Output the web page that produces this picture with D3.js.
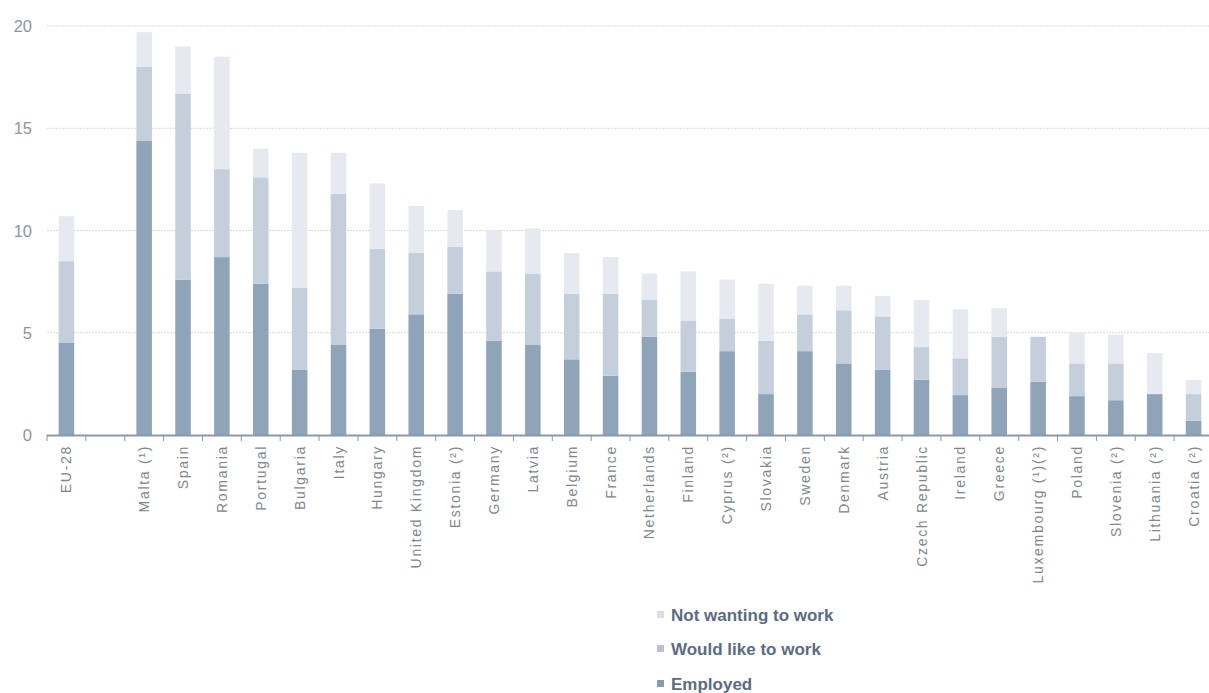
<!DOCTYPE html>
<html><head><meta charset="utf-8">
<script src="https://cdn.jsdelivr.net/npm/d3@7"></script>
<style>
body{margin:0;background:#fff;}
svg{display:block;font-family:"Liberation Sans",Arial,sans-serif;}
</style></head>
<body><svg id="c" width="1209" height="693"></svg>
<script>
const categories = ["EU-28","","Malta (¹)","Spain","Romania","Portugal","Bulgaria","Italy","Hungary","United Kingdom","Estonia (²)","Germany","Latvia","Belgium","France","Netherlands","Finland","Cyprus (²)","Slovakia","Sweden","Denmark","Austria","Czech Republic","Ireland","Greece","Luxembourg (¹)(²)","Poland","Slovenia (²)","Lithuania (²)","Croatia (²)"];
const employed   = [4.5,null,14.4,7.6,8.7,7.4,3.2,4.4,5.2,5.9,6.9,4.6,4.4,3.7,2.9,4.8,3.1,4.1,2.0,4.1,3.5,3.2,2.7,1.95,2.3,2.6,1.9,1.7,2.0,0.7];
const wouldLike  = [4.0,null,3.6,9.1,4.3,5.2,4.0,7.4,3.9,3.0,2.3,3.4,3.5,3.2,4.0,1.8,2.5,1.6,2.6,1.8,2.6,2.6,1.6,1.8,2.5,2.2,1.6,1.8,0,1.3];
const notWanting = [2.2,null,1.7,2.3,5.5,1.4,6.6,2.0,3.2,2.3,1.8,2.0,2.2,2.0,1.8,1.3,2.4,1.9,2.8,1.4,1.2,1.0,2.3,2.4,1.4,0,1.5,1.4,2.0,0.7];
const seriesNames = ["Employed","Would like to work","Not wanting to work"];
const yTicks = [0,5,10,15,20];

const colors = {"Employed":"#8fa3b9","Would like to work":"#c5cedb","Not wanting to work":"#e6e9f0"};
const svg = d3.select("#c");
const x = d3.scaleBand().domain(d3.range(categories.length)).range([47,1213]).paddingInner(0.6).paddingOuter(0.3);
const y = d3.scaleLinear().domain([0,20]).range([435,26]);

// grid
svg.append("g").selectAll("line").data(yTicks.filter(d=>d>0)).join("line")
  .attr("x1",47).attr("x2",1209).attr("y1",d=>y(d)).attr("y2",d=>y(d))
  .attr("stroke","#d4d8de").attr("stroke-width",1).attr("stroke-dasharray","2,1");

// y labels
svg.append("g").selectAll("text").data(yTicks).join("text")
  .attr("x",32).attr("y",d=>y(d)+6).attr("text-anchor","end")
  .attr("font-size",16.5).attr("fill","#8f949b").text(d=>d);

const rows = categories.map((c,i)=>({i,"Employed":employed[i]||0,"Would like to work":wouldLike[i]||0,"Not wanting to work":notWanting[i]||0}));
const stack = d3.stack().keys(seriesNames)(rows);
svg.append("g").selectAll("g").data(stack).join("g").attr("fill",d=>colors[d.key])
  .selectAll("rect").data(d=>d.filter(p=>p[1]>p[0])).join("rect")
  .attr("x",d=>x(d.data.i)).attr("width",x.bandwidth())
  .attr("y",d=>y(d[1])).attr("height",d=>y(d[0])-y(d[1]));

// x axis
const ax = svg.append("g");
ax.append("line").attr("x1",47).attr("x2",1209).attr("y1",435.5).attr("y2",435.5).attr("stroke","#8a98aa").attr("stroke-width",2);
const bounds = d3.range(categories.length+1).map(k=>47+k*((1213-47)/categories.length));
ax.selectAll(".tk").data(bounds).join("line").attr("class","tk")
  .attr("x1",d=>d).attr("x2",d=>d).attr("y1",435).attr("y2",441).attr("stroke","#8a98aa").attr("stroke-width",1);
ax.selectAll("text").data(categories).join("text")
  .attr("transform",(d,i)=>`translate(${x(i)+x.bandwidth()/2+5},445) rotate(-90)`)
  .attr("text-anchor","end").attr("font-size",14).attr("letter-spacing",1.7).attr("fill","#80868d").text(d=>d);

// legend
const lg = svg.append("g").attr("transform","translate(657,0)");
const legendItems = [["Not wanting to work",621],["Would like to work",655],["Employed",690]];
legendItems.forEach(([k,yy])=>{
  lg.append("rect").attr("x",0).attr("y",yy-10).attr("width",7).attr("height",7).attr("fill",d3.color(colors[k]).darker(0.15));
  lg.append("text").attr("x",14).attr("y",yy).attr("font-size",17).attr("font-weight","bold")
    .attr("fill","#5d6b80").text(k);
});
</script></body></html>
